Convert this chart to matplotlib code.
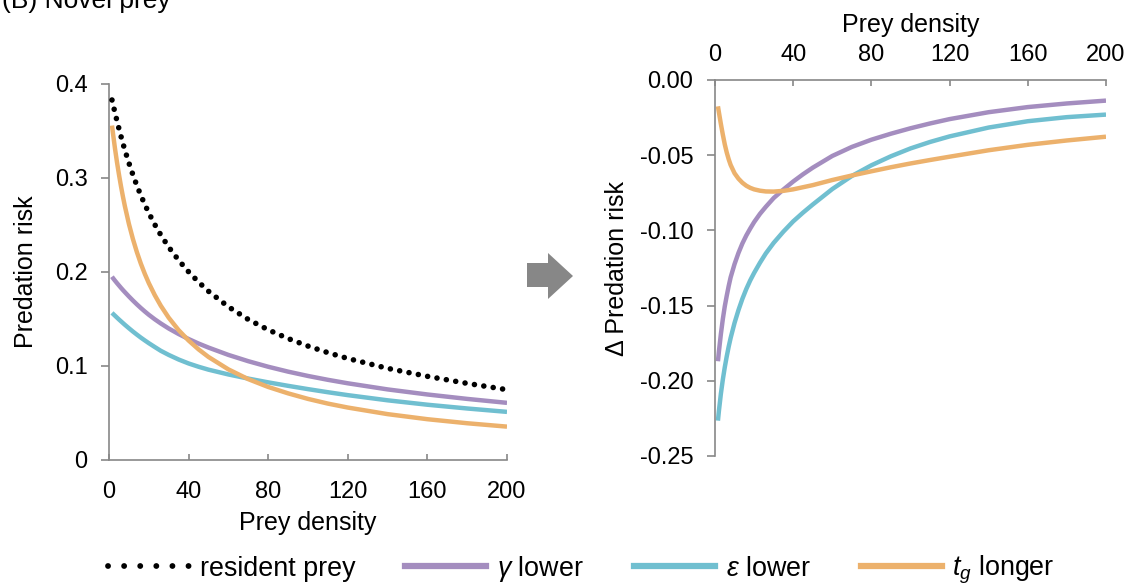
import matplotlib
matplotlib.use("Agg")
import matplotlib.pyplot as plt
from matplotlib.lines import Line2D
from matplotlib.patches import Polygon

plt.rcParams['font.family'] = ['Liberation Sans', 'DejaVu Sans']
plt.rcParams['mathtext.fontset'] = 'custom'
plt.rcParams['mathtext.rm'] = 'Liberation Sans'
plt.rcParams['mathtext.it'] = 'Liberation Sans:italic'

# ---- data ----
density = [1.5, 2, 3, 4, 5, 6, 7, 8, 10, 12, 14, 16, 18, 20, 23, 26, 30, 35, 40,
           45, 50, 60, 70, 80, 90, 100, 110, 120, 140, 160, 180, 200]

risk_resident = [0.383, 0.3785, 0.3695, 0.3608, 0.3525, 0.3445, 0.3368, 0.3295,
                 0.3160, 0.3035, 0.2920, 0.2815, 0.2718, 0.2628, 0.2505, 0.2395,
                 0.2265, 0.2125, 0.2002, 0.1893, 0.1795, 0.1630, 0.1495, 0.1385,
                 0.1292, 0.1212, 0.1142, 0.1080, 0.0975, 0.0890, 0.0815, 0.0748]
risk_gamma = [0.1950, 0.1935, 0.1908, 0.1882, 0.1857, 0.1832, 0.1808, 0.1785,
              0.1740, 0.1697, 0.1656, 0.1617, 0.1580, 0.1545, 0.1497, 0.1453,
              0.1399, 0.1340, 0.1287, 0.1239, 0.1196, 0.1118, 0.1051, 0.0992,
              0.0940, 0.0894, 0.0853, 0.0816, 0.0751, 0.0697, 0.0650, 0.0608]
risk_eps = [0.1565, 0.1555, 0.1535, 0.1515, 0.1495, 0.1476, 0.1457, 0.1438,
            0.1402, 0.1367, 0.1334, 0.1302, 0.1272, 0.1243, 0.1202, 0.1162,
            0.1118, 0.1069, 0.1027, 0.0992, 0.0961, 0.0910, 0.0866, 0.0826,
            0.0789, 0.0754, 0.0721, 0.0690, 0.0635, 0.0588, 0.0548, 0.0512]
risk_tg = [0.3558, 0.3474, 0.3315, 0.3170, 0.3038, 0.2915, 0.2802, 0.2698,
           0.2512, 0.2352, 0.2212, 0.2089, 0.1980, 0.1882, 0.1754, 0.1642,
           0.1514, 0.1381, 0.1271, 0.1177, 0.1096, 0.0964, 0.0860, 0.0777,
           0.0709, 0.0650, 0.0600, 0.0558, 0.0488, 0.0434, 0.0391, 0.0355]

delta_gamma = [-0.1870, -0.1805, -0.1690, -0.1590, -0.1505, -0.1435, -0.1370,
               -0.1312, -0.1224, -0.1150, -0.1087, -0.1034, -0.0988, -0.0945,
               -0.0890, -0.0843, -0.0785, -0.0728, -0.0675, -0.0627, -0.0583,
               -0.0505, -0.0445, -0.0397, -0.0357, -0.0321, -0.0289, -0.0260,
               -0.0214, -0.0180, -0.0156, -0.0137]
delta_eps = [-0.2265, -0.2200, -0.2087, -0.1992, -0.1910, -0.1838, -0.1773,
             -0.1715, -0.1615, -0.1530, -0.1455, -0.1390, -0.1333, -0.1283,
             -0.1215, -0.1153, -0.1083, -0.1008, -0.0940, -0.0882, -0.0828,
             -0.0725, -0.0638, -0.0567, -0.0507, -0.0455, -0.0412, -0.0375,
             -0.0316, -0.0274, -0.0247, -0.0230]
delta_tg = [-0.0175, -0.0215, -0.0292, -0.0363, -0.0428, -0.0482, -0.0527,
            -0.0565, -0.0620, -0.0656, -0.0683, -0.0703, -0.0717, -0.0727,
            -0.0736, -0.0741, -0.0742, -0.0737, -0.0727, -0.0713, -0.0699,
            -0.0665, -0.0635, -0.0607, -0.0580, -0.0555, -0.0532, -0.0510,
            -0.0467, -0.0431, -0.0402, -0.0377]

x_ticks = [0, 40, 80, 120, 160, 200]
left_yticks = [0, 0.1, 0.2, 0.3, 0.4]
left_yticklabels = ['0', '0.1', '0.2', '0.3', '0.4']
right_yticks = [0.00, -0.05, -0.10, -0.15, -0.20, -0.25]
right_yticklabels = ['0.00', '-0.05', '-0.10', '-0.15', '-0.20', '-0.25']

labels = ['resident prey', r'$\mathit{\gamma}$ lower', r'$\mathit{\varepsilon}$ lower',
          r'$\mathit{t_g}$ longer']

# ---- styles ----
C_GAMMA = '#A48DBF'
C_EPS = '#70BFD0'
C_TG = '#ECB16C'
AX_COL = '#888888'
LW = 3.2
FS_TICK = 17
FS_LAB = 18

W, H = 1133, 586
fig = plt.figure(figsize=(W / 100, H / 100), dpi=100)

axL = fig.add_axes([109 / W, 1 - 460 / H, 398 / W, 376 / H])
axR = fig.add_axes([715 / W, 1 - 456 / H, 391 / W, 376 / H])

dot_style = dict(color='black', lw=4.0, linestyle=(0, (0.01, 1.7)),
                 dash_capstyle='round')

axL.plot(density, risk_resident, zorder=4, **dot_style)
for ax, series in ((axL, (risk_gamma, risk_eps, risk_tg)),
                   (axR, (delta_gamma, delta_eps, delta_tg))):
    for vals, col in zip(series, (C_GAMMA, C_EPS, C_TG)):
        ax.plot(density, vals, color=col, lw=LW, solid_capstyle='butt',
                solid_joinstyle='round')

# left axes styling
axL.set_xlim(0, 200)
axL.set_ylim(0, 0.4)
axL.set_xticks(x_ticks)
axL.set_yticks(left_yticks)
axL.set_yticklabels(left_yticklabels)
for s in ['top', 'right']:
    axL.spines[s].set_visible(False)
for s in ['left', 'bottom']:
    axL.spines[s].set_color(AX_COL)
    axL.spines[s].set_linewidth(1.2)
axL.tick_params(axis='x', direction='in', length=4.5, width=1.2, color=AX_COL,
                labelsize=FS_TICK, pad=15)
axL.tick_params(axis='y', direction='out', length=5.5, width=1.2, color=AX_COL,
                labelsize=FS_TICK, pad=10)
axL.set_xlabel('Prey density', fontsize=FS_LAB, labelpad=6)
axL.set_ylabel('Predation risk', fontsize=FS_LAB, labelpad=12)

# right axes styling
axR.set_xlim(0, 200)
axR.set_ylim(-0.25, 0.0)
axR.set_xticks(x_ticks)
axR.set_yticks(right_yticks)
axR.set_yticklabels(right_yticklabels)
axR.xaxis.tick_top()
axR.xaxis.set_label_position('top')
for s in ['bottom', 'right']:
    axR.spines[s].set_visible(False)
for s in ['left', 'top']:
    axR.spines[s].set_color(AX_COL)
    axR.spines[s].set_linewidth(1.2)
axR.tick_params(axis='x', direction='in', length=4.5, width=1.2, color=AX_COL,
                labelsize=FS_TICK, pad=10)
axR.tick_params(axis='y', direction='out', length=5.5, width=1.2, color=AX_COL,
                labelsize=FS_TICK, pad=10)
axR.set_xlabel('Prey density', fontsize=FS_LAB, labelpad=9)
axR.set_ylabel('\u0394 Predation risk', fontsize=FS_LAB, labelpad=8)

# panel title (mostly cropped at the top)
fig.text(2 / W, 1 - 8 / H, '(B) Novel prey', fontsize=19, ha='left', va='baseline')

# grey block arrow between panels
arrow_px = [(527, 263), (548, 263), (548, 253), (573, 276), (548, 299),
            (548, 287), (527, 287)]
fig.patches.append(Polygon([(x / W, 1 - y / H) for x, y in arrow_px],
                           closed=True, transform=fig.transFigure,
                           facecolor='#878787', edgecolor='none'))

# legend
handles = [
    Line2D([], [], color='black', lw=4.2, linestyle=(0, (0.01, 2.75)),
           dash_capstyle='round'),
    Line2D([], [], color=C_GAMMA, lw=4.5),
    Line2D([], [], color=C_EPS, lw=4.5),
    Line2D([], [], color=C_TG, lw=4.5),
]
fig.legend(handles, labels, loc='center',
           bbox_to_anchor=(0.5 + 15 / W, 1 - 570 / H),
           ncol=4, frameon=False, fontsize=19.4, handlelength=3.0,
           handletextpad=0.4, columnspacing=1.86, borderpad=0.2)

fig.savefig('out.png', dpi=100)
